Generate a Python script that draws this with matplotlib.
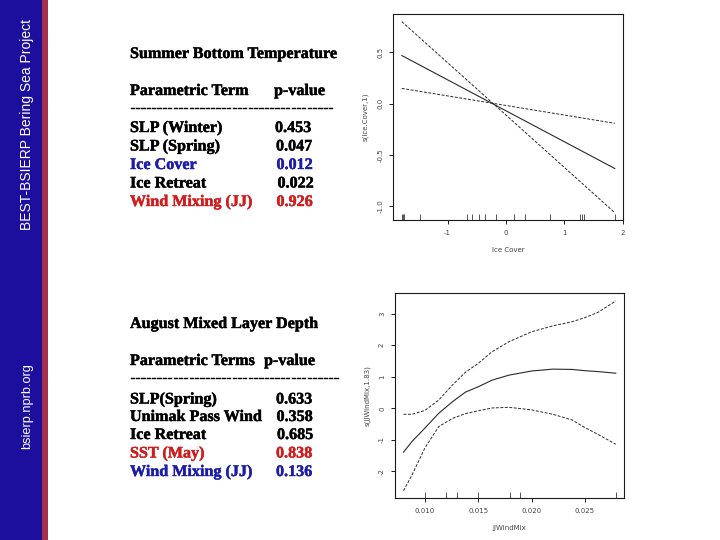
import matplotlib
matplotlib.use("Agg")
import matplotlib.pyplot as plt
import matplotlib.patches as mpatches
import matplotlib.patheffects as pe
import numpy as np

# ---------------- data ----------------
top_title = "Summer Bottom Temperature"
top_header = ["Parametric Term", "p-value"]
top_terms = ["SLP (Winter)", "SLP (Spring)", "Ice Cover", "Ice Retreat", "Wind Mixing (JJ)"]
top_pvals = ["0.453", "0.047", "0.012", "0.022", "0.926"]
top_colors = ["black", "black", "blue", "black", "red"]

bot_title = "August Mixed Layer Depth"
bot_header = ["Parametric Terms", "p-value"]
bot_terms = ["SLP(Spring)", "Unimak Pass Wind", "Ice Retreat", "SST (May)", "Wind Mixing (JJ)"]
bot_pvals = ["0.633", "0.358", "0.685", "0.838", "0.136"]
bot_colors = ["black", "black", "black", "red", "blue"]

# Ice Cover smooth (linear term, edf = 1)
ice_x = [-1.783, 1.864]
ice_fit = [0.47, -0.63]
ice_band_a = [0.80, -1.06]
ice_band_b = [0.15, -0.19]
ice_rug = [-1.783, -1.761, -1.744, -1.469, -0.662, -0.576, -0.455, -0.352,
           -0.163, 0.146, 0.318, 0.759, 1.263, 1.297, 1.332, 1.864]
ice_xticks = [-1, 0, 1, 2]
ice_yticks = [0.5, 0.0, -0.5, -1.0]
ice_yticklabels = ["0.5", "0.0", "-0.5", "-1.0"]

# JJWindMix smooth (edf = 1.83)
wm_x = [0.0080, 0.0088, 0.0100, 0.0113, 0.0126, 0.0138, 0.0150, 0.0163,
        0.0179, 0.0200, 0.0220, 0.0238, 0.0250, 0.0263, 0.0279]
wm_fit = [-1.39, -1.05, -0.63, -0.16, 0.21, 0.51, 0.68, 0.89,
          1.05, 1.18, 1.24, 1.23, 1.19, 1.16, 1.11]
wm_upper = [-0.19, -0.19, -0.07, 0.26, 0.74, 1.14, 1.42, 1.79,
            2.11, 2.42, 2.61, 2.74, 2.87, 3.05, 3.40]
wm_lower = [-2.61, -2.11, -1.26, -0.58, -0.32, -0.17, -0.08, 0.01,
            0.03, -0.05, -0.19, -0.37, -0.61, -0.84, -1.14]
wm_rug = [0.0100, 0.0120, 0.0130, 0.0150, 0.0180, 0.0189, 0.0279]
wm_xticks = [0.010, 0.015, 0.020, 0.025]
wm_xticklabels = ["0.010", "0.015", "0.020", "0.025"]
wm_yticks = [3, 2, 1, 0, -1, -2]

# ---------------- figure ----------------
W, H = 720, 540
fig = plt.figure(figsize=(7.2, 5.4), dpi=100)
fig.patch.set_facecolor("white")

def fx(px):
    return px / W

def fy(py):
    return 1 - py / H

# sidebar
fig.add_artist(mpatches.Rectangle((0, 0), fx(42), 1, transform=fig.transFigure,
                                  facecolor="#1d0f9e", edgecolor="none"))
fig.add_artist(mpatches.Rectangle((fx(42), 0), fx(5.5), 1, transform=fig.transFigure,
                                  facecolor="#a3304c", edgecolor="none"))
fig.text(fx(27), fy(124), "BEST-BSIERP Bering Sea Project", rotation=90,
         color="white", fontsize=10.0, family="Liberation Sans",
         ha="center", va="center")
fig.text(fx(27), fy(406.5), "bsierp.nprb.org", rotation=90,
         color="white", fontsize=9.2, family="Liberation Sans",
         ha="center", va="center")

# logos (approximate)
lax = fig.add_axes([0, fy(540), fx(42), (540 - 450) / H])
lax.set_xlim(0, 42)
lax.set_ylim(540, 450)
lax.set_aspect("equal")
lax.axis("off")
lax.add_patch(mpatches.Circle((20, 473), 16.5, facecolor="#d8e4f4", edgecolor="none"))
lax.add_patch(mpatches.Circle((20, 473), 14.5, facecolor="#3f7fd0", edgecolor="none"))
lax.add_patch(mpatches.Circle((17, 469), 8, facecolor="#8fc0f0", edgecolor="none"))
lax.add_patch(mpatches.Polygon([[22, 462], [30, 466], [32, 476], [26, 482], [24, 472]],
                               facecolor="#1a3a80", edgecolor="none"))
ang = np.linspace(0, 2 * np.pi, 33)
rad = np.where(np.arange(33) % 2 == 0, 17, 10)
lax.add_patch(mpatches.Polygon(np.c_[20 + rad * np.cos(ang), 516 + rad * np.sin(ang)],
                               facecolor="#d8b04a", edgecolor="none"))
lax.add_patch(mpatches.Circle((20, 516), 8.5, facecolor="#1a3aa0", edgecolor="#e8d8a0", lw=0.6))
lax.text(20, 516, "NSF", color="white", fontsize=4.5, fontweight="bold",
         ha="center", va="center", family="Liberation Sans")

# ---------------- text tables ----------------
serif = "Liberation Serif"
tfs = 11.6

def btext(x, y, s, col="black", size=tfs, stroke=0.3):
    t = fig.text(fx(x), fy(y), s, fontsize=size, fontweight="bold",
                 family=serif, va="center", ha="left", color=col)
    if stroke:
        t.set_path_effects([pe.withStroke(linewidth=stroke, foreground=col)])
    return t

def table(title, ytitle, header, hdr_pval_x, yhdr, ydash, terms, pvals, colors, rows_y, pval_x, ndash):
    btext(130, ytitle, title)
    btext(130, yhdr, header[0])
    btext(hdr_pval_x, yhdr, header[1])
    btext(130, ydash, "-" * ndash, size=tfs, stroke=0.3)
    for t, p, c, yy, px in zip(terms, pvals, colors, rows_y, pval_x):
        col = {"black": "black", "blue": "#1c1ca8", "red": "#d01c1c"}[c]
        btext(130, yy, t, col)
        btext(px, yy, p, col)

table(top_title, 54, top_header, 274, 91, 108, top_terms, top_pvals, top_colors,
      [128, 146.5, 165, 183.5, 202], [275, 276, 276.5, 277.5, 276.5], 38)
table(bot_title, 324, bot_header, 264, 361, 378, bot_terms, bot_pvals, bot_colors,
      [399.5, 417, 435, 453.5, 472], [276, 276.5, 277, 276, 276], 39)

# ---------------- plots ----------------
lc = "#2a2a2a"
dash = (0, (3.0, 1.6))
tick_fs = 5.0

def style(ax):
    for s in ax.spines.values():
        s.set_linewidth(0.8)
        s.set_color("#1a1a1a")
    ax.tick_params(direction="out", length=3.2, width=0.7, color="#1a1a1a",
                   labelsize=tick_fs, labelcolor="#444444", pad=4)
    for lab in ax.get_yticklabels():
        lab.set_rotation(90)
        lab.set_va("center")

# top: Ice Cover
ax1 = fig.add_axes([fx(393.3), fy(220.3), fx(230), (220.3 - 14) / H])
ax1.plot(ice_x, ice_fit, color=lc, lw=0.8)
ax1.plot(ice_x, ice_band_a, color=lc, lw=0.7, linestyle=dash)
ax1.plot(ice_x, ice_band_b, color=lc, lw=0.7, linestyle=dash)
ax1.vlines(ice_rug, 0, 0.032, transform=ax1.get_xaxis_transform(), color="#555555", lw=0.7)
rng = ice_x[1] - ice_x[0]
ax1.set_xlim(ice_x[0] - 0.04 * rng, ice_x[1] + 0.04 * rng)
lo = min(ice_band_a + ice_band_b)
hi = max(ice_band_a + ice_band_b)
yr = hi - lo
ax1.set_ylim(lo - 0.04 * yr, hi + 0.04 * yr)
ax1.set_xticks(ice_xticks)
ax1.set_xticklabels([str(v) for v in ice_xticks])
ax1.set_yticks(ice_yticks)
ax1.set_yticklabels(ice_yticklabels)
ax1.set_xlabel("Ice Cover", fontsize=tick_fs, color="#444444", labelpad=8)
ax1.set_ylabel("s(Ice.Cover,1)", fontsize=tick_fs, color="#444444", labelpad=6)
style(ax1)

# bottom: JJWindMix
ax2 = fig.add_axes([fx(395), fy(498.3), fx(229.3), (498.3 - 293.3) / H])
ax2.plot(wm_x, wm_fit, color=lc, lw=0.8)
ax2.plot(wm_x, wm_upper, color=lc, lw=0.7, linestyle=dash)
ax2.plot(wm_x, wm_lower, color=lc, lw=0.7, linestyle=dash)
ax2.vlines(wm_rug, 0, 0.032, transform=ax2.get_xaxis_transform(), color="#555555", lw=0.7)
rng = wm_x[-1] - wm_x[0]
ax2.set_xlim(wm_x[0] - 0.04 * rng, wm_x[-1] + 0.04 * rng)
yr = max(wm_upper) - min(wm_lower)
ax2.set_ylim(min(wm_lower) - 0.04 * yr, max(wm_upper) + 0.04 * yr)
ax2.set_xticks(wm_xticks)
ax2.set_xticklabels(wm_xticklabels)
ax2.set_yticks(wm_yticks)
ax2.set_yticklabels([str(v) for v in wm_yticks])
ax2.set_xlabel("JJWindMix", fontsize=tick_fs, color="#444444", labelpad=8)
ax2.set_ylabel("s(JJWindMix,1.83)", fontsize=tick_fs, color="#444444", labelpad=6)
style(ax2)

fig.savefig("out.png", dpi=100, facecolor="white")
